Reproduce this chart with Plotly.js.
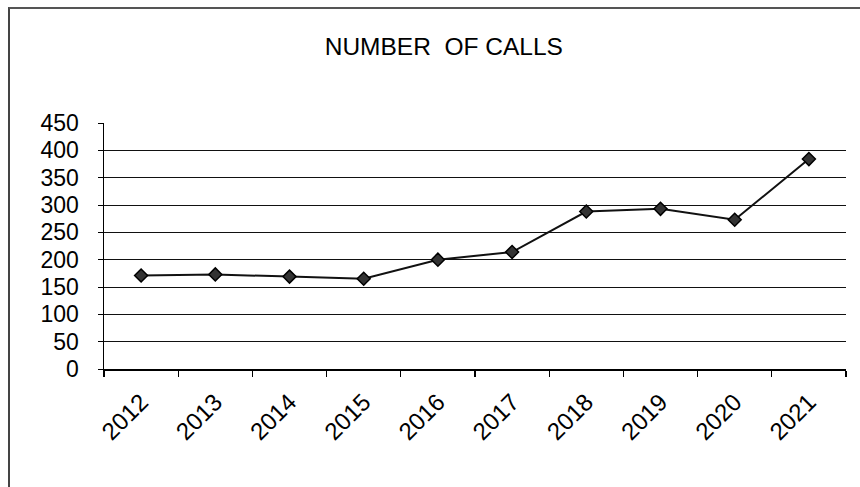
<!DOCTYPE html>
<html>
<head>
<meta charset="utf-8">
<script src="https://cdn.plot.ly/plotly-3.0.1.min.js"></script>
<style>
  html, body { margin: 0; padding: 0; background: #fff; }
  #wrap { position: relative; width: 860px; height: 487px; }
  #chart { width: 860px; height: 487px; }
  #frame { position: absolute; left: 8px; top: 7px; right: 0; bottom: 0;
           border-top: 2px solid #555; border-left: 2px solid #444; pointer-events: none; }
</style>
</head>
<body>
<div id="wrap">
  <div id="chart"></div>
  <div id="frame"></div>
</div>
<script>
const years = ["2012", "2013", "2014", "2015", "2016", "2017", "2018", "2019", "2020", "2021"];
const calls = [171, 173, 169, 165, 200, 214, 288, 293, 273, 384];
const yTicks = [0, 50, 100, 150, 200, 250, 300, 350, 400, 450];
const chartTitle = "NUMBER&nbsp; OF CALLS";

const trace = {
  x: years,
  y: calls,
  type: "scatter",
  mode: "lines+markers",
  line: { color: "#111", width: 2 },
  marker: { symbol: "diamond", size: 10, color: "#333", line: { color: "#000", width: 1.5 } },
  hoverinfo: "x+y"
};

const layout = {
  width: 860,
  height: 487,
  margin: { l: 104, r: 14, t: 123, b: 118 },
  paper_bgcolor: "#fff",
  plot_bgcolor: "#fff",
  showlegend: false,
  font: { family: "Liberation Sans, Arial, sans-serif", color: "#000", size: 23 },
  title: {
    text: chartTitle,
    font: { family: "Liberation Sans, Arial, sans-serif", size: 24.5, color: "#000" },
    x: 0.458, xanchor: "center", xref: "paper",
    y: 0.905, yanchor: "middle", yref: "container"
  },
  xaxis: {
    type: "category",
    tickangle: -45,
    tickson: "boundaries",
    ticks: "outside",
    ticklen: 6,
    tickcolor: "#000",
    tickwidth: 1.2,
    showgrid: false,
    showline: true,
    linecolor: "#000",
    linewidth: 1.5,
    mirror: false,
    tickfont: { size: 24 },
    ticklabelstandoff: 8,
    range: [-0.5, 9.5],
    fixedrange: true
  },
  yaxis: {
    range: [0, 450],
    tickvals: yTicks,
    ticktext: yTicks.map(String),
    ticks: "outside",
    ticklen: 5,
    tickcolor: "#000",
    showgrid: true,
    gridcolor: "#111",
    gridwidth: 1,
    showline: true,
    linecolor: "#000",
    linewidth: 1.5,
    zeroline: false,
    tickfont: { size: 23 },
    ticklabelstandoff: 14,
    fixedrange: true
  }
};

Plotly.newPlot("chart", [trace], layout, { displayModeBar: false, staticPlot: true });
</script>
</body>
</html>
